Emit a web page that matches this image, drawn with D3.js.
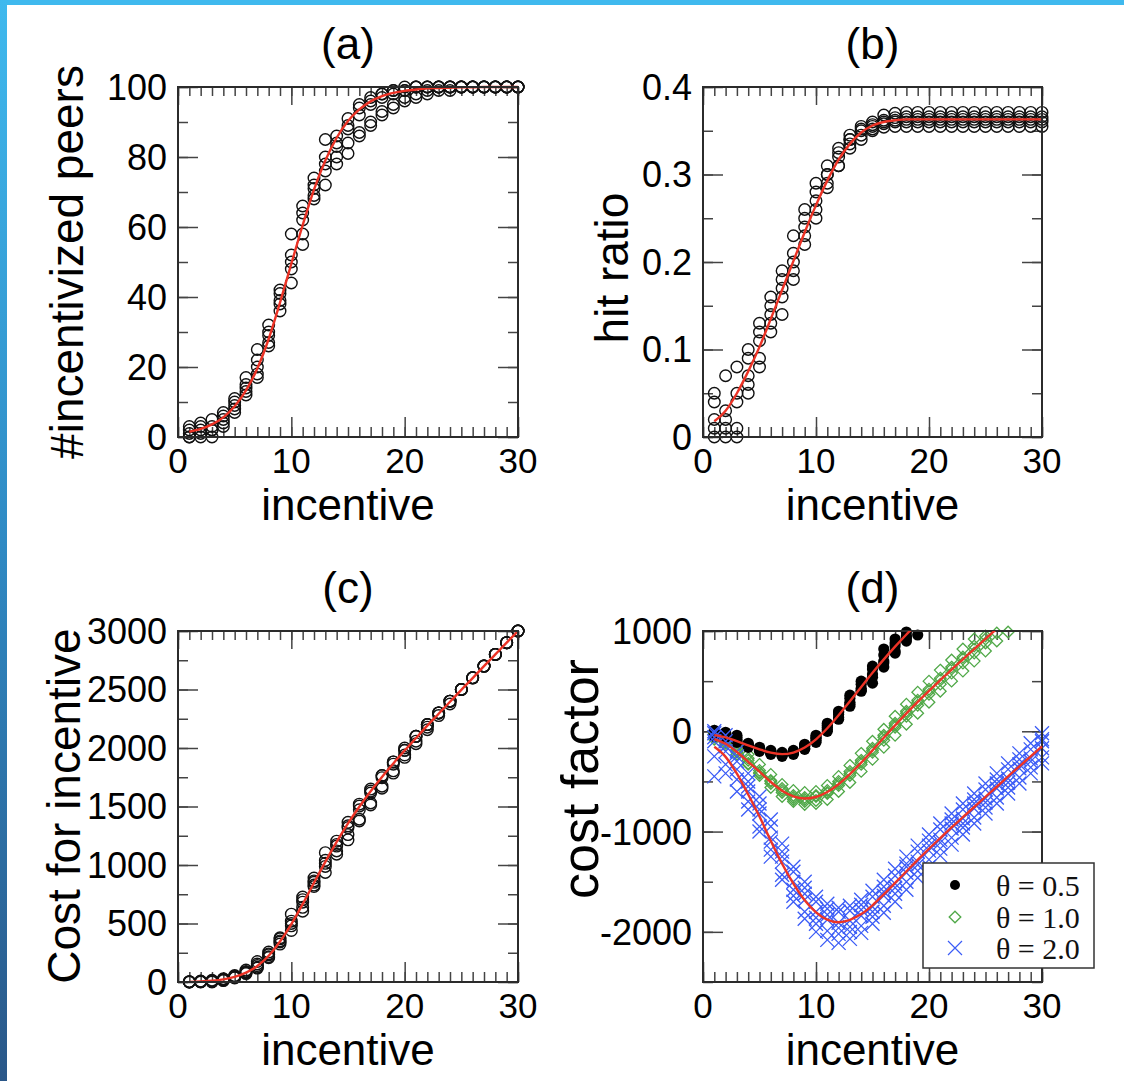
<!DOCTYPE html>
<html>
<head>
<meta charset="utf-8">
<script src="https://cdn.jsdelivr.net/npm/d3@7"></script>
<style>
  html, body { margin: 0; padding: 0; background: #fff; }
  svg { display: block; }
</style>
</head>
<body>
<svg id="fig" width="1124" height="1081"></svg>
<script>
// ---------------- data ----------------
const incentive = [1,2,3,4,5,6,7,8,9,10,11,12,13,14,15,16,17,18,19,20,21,22,23,24,25,26,27,28,29,30];
const xTickLabels = [0, 10, 20, 30];

// (a) number of incentivized peers, five simulation runs + fitted curve
const peersRun1 = [0,1,3,4,8,12,18,27,38,52,62,72,80,86,91,95,97,98,99,100,100,100,100,100,100,100,100,100,100,100];
const peersRun2 = [2,3,2,6,10,15,22,30,41,48,58,68,76,83,88,92,95,97,99,99,100,100,100,100,100,100,100,100,100,100];
const peersRun3 = [1,0,5,7,9,17,25,32,36,44,66,74,78,80,84,86,89,92,94,96,97,98,99,100,100,100,100,100,100,100];
const peersRun4 = [3,2,0,5,11,14,20,26,39,58,55,69,72,78,81,87,90,93,95,97,98,99,100,99,100,100,100,100,100,100];
const peersRun5 = [0,4,2,3,7,13,17,29,42,50,64,71,85,84,89,94,96,98,98,99,100,100,100,100,100,100,100,100,100,100];
const peersFit  = [1.5,2.3,3.6,5.6,8.8,13.3,19.6,28,38.4,49.5,60.5,70.7,79,85.5,90.3,93.6,95.9,97.4,98.3,98.9,99.3,99.6,99.7,99.8,99.9,99.9,100,100,100,100];
const peersTicks = [0, 20, 40, 60, 80, 100];

// (b) hit ratio
const hitRun1 = [0.04,0.07,0.08,0.09,0.12,0.14,0.18,0.21,0.24,0.28,0.30,0.33,0.34,0.355,0.36,0.368,0.37,0.371,0.371,0.371,0.371,0.371,0.371,0.371,0.371,0.371,0.371,0.371,0.371,0.371];
const hitRun2 = [0.01,0.02,0.05,0.10,0.08,0.15,0.16,0.19,0.22,0.27,0.29,0.31,0.33,0.345,0.352,0.362,0.365,0.366,0.366,0.366,0.366,0.366,0.366,0.366,0.366,0.366,0.366,0.366,0.366,0.366];
const hitRun3 = [0.00,0.03,0.01,0.07,0.13,0.12,0.17,0.23,0.25,0.26,0.30,0.32,0.34,0.35,0.357,0.358,0.36,0.36,0.36,0.36,0.36,0.36,0.36,0.36,0.36,0.36,0.36,0.36,0.36,0.36];
const hitRun4 = [0.02,0.00,0.04,0.05,0.11,0.16,0.14,0.20,0.23,0.25,0.285,0.31,0.335,0.34,0.35,0.354,0.355,0.355,0.355,0.355,0.355,0.355,0.355,0.355,0.355,0.355,0.355,0.355,0.355,0.355];
const hitRun5 = [0.05,0.01,0.00,0.06,0.09,0.13,0.19,0.18,0.26,0.29,0.31,0.325,0.345,0.352,0.355,0.36,0.362,0.363,0.363,0.363,0.363,0.363,0.363,0.363,0.363,0.363,0.363,0.363,0.363,0.363];
const hitFit  = [0.018,0.03,0.05,0.075,0.103,0.135,0.168,0.201,0.234,0.265,0.293,0.317,0.335,0.348,0.356,0.36,0.362,0.363,0.363,0.363,0.363,0.363,0.363,0.363,0.363,0.363,0.363,0.363,0.363,0.363];
const hitTicks = [0, 0.1, 0.2, 0.3, 0.4];

// (c) cost for incentive
const costRun1 = [0,2,9,16,40,72,126,216,342,520,682,864,1040,1204,1365,1520,1649,1764,1881,2000,2100,2200,2300,2400,2500,2600,2700,2800,2900,3000];
const costRun2 = [2,6,6,24,50,90,154,240,369,480,638,816,988,1162,1320,1472,1615,1746,1881,1980,2100,2200,2300,2400,2500,2600,2700,2800,2900,3000];
const costRun3 = [1,0,15,28,45,102,175,256,324,440,726,888,1014,1120,1260,1376,1513,1656,1786,1920,2037,2156,2277,2400,2500,2600,2700,2800,2900,3000];
const costRun4 = [3,4,0,20,55,84,140,208,351,580,605,828,936,1092,1215,1392,1530,1674,1805,1940,2058,2178,2300,2376,2500,2600,2700,2800,2900,3000];
const costRun5 = [0,8,6,12,35,78,119,232,378,500,704,852,1105,1176,1335,1504,1632,1764,1862,1980,2100,2200,2300,2400,2500,2600,2700,2800,2900,3000];
const costFit  = [1.5,4.6,10.8,22.4,44,80,137,224,346,495,666,848,1027,1197,1355,1498,1630,1753,1868,1978,2085,2191,2293,2395,2497,2597,2700,2800,2900,3000];
const costTicks = [0, 500, 1000, 1500, 2000, 2500, 3000];

// (d) cost factor for three values of theta
const cf05Run1 = [-20,-40,-80,-120,-170,-200,-210,-190,-140,-40,80,200,330,470,620,760,880,990,1100,1200];
const cf05Run2 = [0,-30,-60,-150,-190,-230,-240,-230,-180,-110,0,120,250,400,540,680,800,930,1050,1150];
const cf05Run3 = [-50,-10,-100,-130,-160,-210,-250,-200,-150,-60,60,190,360,500,650,820,920,1010,1120,1220];
const cf05Run4 = [10,-60,-110,-160,-200,-190,-220,-220,-170,-90,20,140,270,410,570,700,850,950,1060,1180];
const cf05Run5 = [-30,-20,-40,-140,-180,-220,-230,-210,-130,-70,40,170,290,430,480,640,780,900,960,1130];
const cf05Fit  = [-38,-60,-98,-141,-180,-213,-228,-212,-162,-80,30,160,300,442,583,717,844,965,1080,1190];

const cf10Run1 = [-20,-60,-150,-230,-330,-430,-530,-590,-610,-600,-540,-450,-340,-220,-100,20,150,270,390,500,610,710,820,920,1020,1120,1220,1320,1420,1520];
const cf10Run2 = [-60,-140,-230,-330,-440,-560,-650,-700,-730,-720,-680,-600,-510,-400,-280,-160,-40,70,180,290,400,500,600,700,800,900,990,1100,1200,1300];
const cf10Run3 = [-40,-110,-200,-290,-390,-490,-590,-640,-680,-650,-610,-520,-420,-310,-190,-60,60,180,290,400,510,620,720,820,920,1020,1120,1220,1320,1420];
const cf10Run4 = [0,-90,-180,-320,-420,-520,-610,-680,-700,-690,-620,-540,-440,-330,-210,-90,40,150,260,370,470,580,680,780,880,980,1080,1180,1280,1380];
const cf10Run5 = [-80,-120,-210,-270,-410,-500,-570,-660,-660,-640,-590,-500,-400,-290,-170,-40,80,200,310,420,530,640,740,850,950,1050,1150,1250,1350,1450];
const cf10Fit  = [-77,-125,-206,-304,-403,-506,-592,-648,-670,-655,-606,-528,-427,-313,-190,-64,59,178,293,403,510,616,718,820,922,1022,1125,1225,1325,1425];

const cf20Run1 = [-20,-100,-300,-500,-720,-950,-1200,-1400,-1560,-1700,-1770,-1800,-1790,-1730,-1650,-1550,-1440,-1320,-1200,-1090,-980,-880,-780,-680,-580,-480,-380,-280,-180,-80];
const cf20Run2 = [-100,-200,-380,-600,-820,-1060,-1300,-1500,-1680,-1800,-1880,-1910,-1890,-1840,-1750,-1640,-1520,-1410,-1300,-1190,-1080,-970,-870,-770,-670,-570,-470,-370,-270,-170];
const cf20Run3 = [-250,-330,-480,-700,-950,-1180,-1430,-1640,-1800,-1920,-1990,-2020,-2000,-1940,-1850,-1740,-1620,-1500,-1390,-1280,-1170,-1060,-960,-860,-760,-660,-560,-460,-360,-260];
const cf20Run4 = [-450,-420,-600,-780,-1000,-1250,-1480,-1700,-1870,-2000,-2080,-2110,-2070,-2010,-1920,-1810,-1700,-1580,-1460,-1350,-1240,-1130,-1030,-920,-820,-720,-620,-520,-420,-320];
const cf20Run5 = [0,-40,-200,-420,-650,-880,-1120,-1350,-1500,-1650,-1720,-1760,-1740,-1680,-1590,-1480,-1370,-1250,-1140,-1030,-920,-820,-720,-620,-520,-420,-320,-220,-120,-20];
const cf20Run6 = [-60,-150,-250,-550,-780,-1100,-1250,-1580,-1620,-1860,-1830,-1960,-1950,-1780,-1800,-1600,-1560,-1350,-1330,-1140,-1110,-920,-920,-720,-710,-520,-510,-330,-300,-100];
const cf20Fit  = [-155,-255,-423,-630,-850,-1092,-1321,-1520,-1686,-1805,-1878,-1904,-1881,-1823,-1735,-1626,-1512,-1397,-1282,-1172,-1065,-959,-857,-755,-653,-553,-450,-350,-250,-150];
const cfTicks = [-2000, -1000, 0, 1000];
const thetaLabels = ["θ = 0.5", "θ = 1.0", "θ = 2.0"];

// ---------------- drawing ----------------
const svg = d3.select("#fig");
const SANS = "'Liberation Sans', Arial, Helvetica, sans-serif";
const SERIF = "'Liberation Serif', 'Times New Roman', serif";
const FIT_RED = "#ec3326";
const INK = "#2b2b2b";

// slide frame strips
const defs = svg.append("defs");
const grad = defs.append("linearGradient").attr("id", "sideGrad")
  .attr("x1", 0).attr("y1", 0).attr("x2", 0).attr("y2", 1);
grad.append("stop").attr("offset", "0%").attr("stop-color", "#3fb9ee");
grad.append("stop").attr("offset", "50%").attr("stop-color", "#2f8ac4");
grad.append("stop").attr("offset", "100%").attr("stop-color", "#2a5788");
svg.append("rect").attr("x", 0).attr("y", 0).attr("width", 1124).attr("height", 5).attr("fill", "#3fb9ee");
svg.append("rect").attr("x", 0).attr("y", 0).attr("width", 7).attr("height", 1081).attr("fill", "url(#sideGrad)");

function panel(p) {
  const x = d3.scaleLinear().domain([0, 30]).range([p.x0, p.x1]);
  const y = d3.scaleLinear().domain(p.yDomain).range([p.y1, p.y0]);
  const g = svg.append("g");

  const clipId = "clip-" + p.id;
  defs.append("clipPath").attr("id", clipId)
    .append("rect").attr("x", p.x0).attr("y", p.y0 - 8)
    .attr("width", p.x1 - p.x0 + 8).attr("height", p.y1 - p.y0 + 16);

  // inward ticks on all four sides
  const tg = g.append("g");
  const xMinor = d3.range(0, 31, 1);
  const addAxis = (axis, tx, ty) => {
    tg.append("g").attr("transform", `translate(${tx},${ty})`).call(axis)
      .call(s => { s.select(".domain").remove(); s.selectAll("text").remove();
                   s.selectAll("line").attr("stroke", "#444").attr("stroke-width", 1.5); });
  };
  addAxis(d3.axisBottom(x).tickValues(xMinor).tickSize(-10), 0, p.y1);
  addAxis(d3.axisBottom(x).tickValues(xTickLabels).tickSize(-20), 0, p.y1);
  addAxis(d3.axisTop(x).tickValues(xMinor).tickSize(-9), 0, p.y0);
  addAxis(d3.axisTop(x).tickValues(xTickLabels).tickSize(-18), 0, p.y0);
  addAxis(d3.axisLeft(y).tickValues(p.yMinor).tickSize(-10), p.x0, 0);
  addAxis(d3.axisLeft(y).tickValues(p.yMajor).tickSize(-20), p.x0, 0);
  addAxis(d3.axisRight(y).tickValues(p.yMinor).tickSize(-10), p.x1, 0);
  addAxis(d3.axisRight(y).tickValues(p.yMajor).tickSize(-20), p.x1, 0);

  // tick labels
  g.append("g").selectAll("text").data(xTickLabels).join("text")
    .attr("x", d => x(d)).attr("y", p.y1 + 36)
    .attr("text-anchor", "middle").attr("font-family", SANS).attr("font-size", 35)
    .text(d => d);
  g.append("g").selectAll("text").data(p.yMajor).join("text")
    .attr("x", p.x0 - 11).attr("y", d => y(d)).attr("dy", "0.36em")
    .attr("text-anchor", "end").attr("font-family", SANS).attr("font-size", 36)
    .text(d => p.fmt(d));

  // titles
  g.append("text").attr("x", (p.x0 + p.x1) / 2).attr("y", p.y0 - 28)
    .attr("text-anchor", "middle").attr("font-family", SANS).attr("font-size", 44).text(p.title);
  g.append("text").attr("x", (p.x0 + p.x1) / 2).attr("y", p.y1 + 83)
    .attr("text-anchor", "middle").attr("font-family", SANS).attr("font-size", 44).text("incentive");
  g.append("text").attr("transform", `translate(${p.ylabX},${p.ylabY}) rotate(-90)`)
    .attr("text-anchor", "middle").attr("font-family", SANS).attr("font-size", p.ylabSize || 46).text(p.ylab);

  const plot = g.append("g").attr("clip-path", `url(#${clipId})`);
  const inside = v => v >= p.yDomain[0] && v <= p.yDomain[1];
  return { x, y, g, plot, inside };
}

function openCircles(P, runs) {
  runs.forEach(run => {
    P.plot.append("g").selectAll("circle")
      .data(run.map((v, i) => [incentive[i], v]).filter(d => P.inside(d[1])))
      .join("circle")
      .attr("cx", d => P.x(d[0])).attr("cy", d => P.y(d[1])).attr("r", 5.8)
      .attr("fill", "none").attr("stroke", "#111").attr("stroke-width", 1.4);
  });
}

function fitLine(P, fit) {
  const line = d3.line().x((v, i) => P.x(incentive[i])).y(v => P.y(v)).curve(d3.curveMonotoneX);
  P.plot.append("path").attr("d", line(fit))
    .attr("fill", "none").attr("stroke", FIT_RED).attr("stroke-width", 2.4);
}

const fmtInt = d => String(d);

// (a)
const A = panel({ id: "a", x0: 178, x1: 518, y0: 87, y1: 437, yDomain: [0, 100],
  yMajor: peersTicks, yMinor: d3.range(0, 101, 10), fmt: fmtInt,
  title: "(a)", ylab: "#incentivized peers", ylabX: 83, ylabY: 262 });
openCircles(A, [peersRun1, peersRun2, peersRun3, peersRun4, peersRun5]);
fitLine(A, peersFit);

// (b)
const B = panel({ id: "b", x0: 703, x1: 1042, y0: 87, y1: 437, yDomain: [0, 0.4],
  yMajor: hitTicks, yMinor: d3.range(0, 0.401, 0.05), fmt: d => d === 0 ? "0" : d.toFixed(1),
  title: "(b)", ylab: "hit ratio", ylabX: 628, ylabY: 268 });
openCircles(B, [hitRun1, hitRun2, hitRun3, hitRun4, hitRun5]);
fitLine(B, hitFit);

// (c)
const C = panel({ id: "c", x0: 178, x1: 518, y0: 631, y1: 982, yDomain: [0, 3000],
  yMajor: costTicks, yMinor: d3.range(0, 3001, 250), fmt: fmtInt,
  title: "(c)", ylab: "Cost for incentive", ylabX: 80, ylabY: 806 });
openCircles(C, [costRun1, costRun2, costRun3, costRun4, costRun5]);
fitLine(C, costFit);

// (d)
const D = panel({ id: "d", x0: 703, x1: 1042, y0: 631, y1: 982, yDomain: [-2500, 1000],
  yMajor: cfTicks, yMinor: d3.range(-2500, 1001, 500), fmt: fmtInt,
  title: "(d)", ylab: "cost factor", ylabX: 598, ylabY: 779, ylabSize: 52 });

const BLACK = "#000", GREEN = "#4fa847", BLUE = "#3b5cf6";
const diamond = "M0,-5.8L5.8,0L0,5.8L-5.8,0Z";
const cross = "M-7,-7L7,7M-7,7L7,-7";

function pts(P, run) {
  return run.map((v, i) => [incentive[i], v]).filter(d => P.inside(d[1]));
}
[cf10Run1, cf10Run2, cf10Run3, cf10Run4, cf10Run5].forEach(run => {
  D.plot.append("g").selectAll("path").data(pts(D, run)).join("path")
    .attr("transform", d => `translate(${D.x(d[0])},${D.y(d[1])})`)
    .attr("d", diamond).attr("fill", "none").attr("stroke", GREEN).attr("stroke-width", 1.3);
});
[cf05Run1, cf05Run2, cf05Run3, cf05Run4, cf05Run5].forEach(run => {
  D.plot.append("g").selectAll("circle").data(pts(D, run)).join("circle")
    .attr("cx", d => D.x(d[0])).attr("cy", d => D.y(d[1])).attr("r", 5.6).attr("fill", BLACK);
});
[cf20Run1, cf20Run2, cf20Run3, cf20Run4, cf20Run5, cf20Run6].forEach(run => {
  D.plot.append("g").selectAll("path").data(pts(D, run)).join("path")
    .attr("transform", d => `translate(${D.x(d[0])},${D.y(d[1])})`)
    .attr("d", cross).attr("fill", "none").attr("stroke", BLUE).attr("stroke-width", 1.3);
});
defs.append("clipPath").attr("id", "clip-d-fit")
  .append("rect").attr("x", 690).attr("y", 631).attr("width", 360).attr("height", 360);
const fitLayer = svg.append("g").attr("clip-path", "url(#clip-d-fit)");
[cf05Fit, cf10Fit, cf20Fit].forEach(fit => {
  const line = d3.line().x((v, i) => D.x(incentive[i])).y(v => D.y(v)).curve(d3.curveMonotoneX);
  fitLayer.append("path").attr("d", line(fit))
    .attr("fill", "none").attr("stroke", FIT_RED).attr("stroke-width", 2.4);
});

// legend
const lg = svg.append("g").attr("transform", "translate(923,863)");
lg.append("rect").attr("width", 171).attr("height", 105)
  .attr("fill", "#fff").attr("stroke", "#333").attr("stroke-width", 1.5);
const rowY = [22, 54, 85];
lg.append("circle").attr("cx", 32).attr("cy", rowY[0]).attr("r", 5).attr("fill", BLACK);
lg.append("path").attr("transform", `translate(32,${rowY[1]})`).attr("d", diamond)
  .attr("fill", "none").attr("stroke", GREEN).attr("stroke-width", 1.3);
lg.append("path").attr("transform", `translate(32,${rowY[2]})`).attr("d", cross)
  .attr("fill", "none").attr("stroke", BLUE).attr("stroke-width", 1.2);
lg.selectAll("text.lab").data(thetaLabels).join("text").attr("class", "lab")
  .attr("x", 73).attr("y", (d, i) => rowY[i]).attr("dy", "0.35em")
  .attr("font-family", SERIF).attr("font-size", 30).attr("fill", "#111").text(d => d);

// frames last, on top of the data
[A, B, C, D].forEach(P => {
  const [xa, xb] = P.x.range(), [ya, yb] = P.y.range();
  P.g.append("rect").attr("x", xa).attr("y", yb).attr("width", xb - xa).attr("height", ya - yb)
    .attr("fill", "none").attr("stroke", INK).attr("stroke-width", 2);
});
svg.node().appendChild(lg.node());
</script>
</body>
</html>
